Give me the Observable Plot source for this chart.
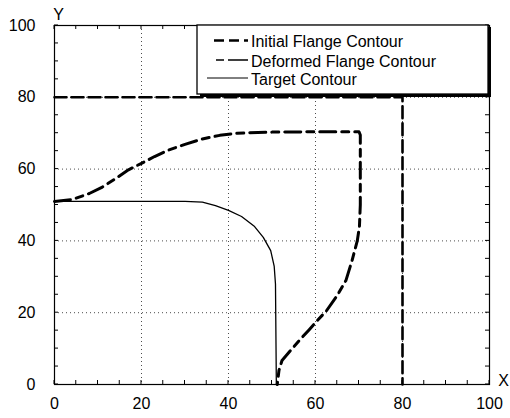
<!DOCTYPE html>
<html><head><meta charset="utf-8">
<script src="https://cdn.jsdelivr.net/npm/d3@7"></script>
<script src="https://cdn.jsdelivr.net/npm/@observablehq/plot@0.6"></script>
<style>
body{margin:0;background:#fff;}
#wrap{position:relative;width:510px;height:418px;font-family:"Liberation Sans",Arial,sans-serif;}
#wrap svg{display:block;}
#legend{position:absolute;left:0;top:0;}
</style></head><body><div id="wrap"></div>
<script>
// ---- data ----
const seriesNames = ["Initial Flange Contour", "Deformed Flange Contour", "Target Contour"];
const initialX = [0, 80, 80];
const initialY = [80, 80, 0];
const deformedX = [0, 4, 8, 11, 14, 17, 20, 23, 26, 30, 34, 38, 42, 50, 60, 70, 70.3, 70.3, 70.3, 70.1, 69.6, 68.4, 67, 65, 62.5, 60.4, 58.5, 56.6, 54.5, 52.3, 51.6, 51.2];
const deformedY = [51, 51.5, 53.2, 55, 57.3, 59.8, 61.6, 63.5, 65.2, 66.9, 68.4, 69.4, 70, 70.3, 70.4, 70.4, 69.5, 60, 50, 44, 40, 34.5, 29, 24.8, 20.5, 17.8, 15.2, 12.7, 9.8, 6.7, 3.9, 0];
const targetX = [0, 30, 34, 37, 40, 43, 46, 48, 49.7, 50.5, 50.8, 51];
const targetY = [51, 51, 50.8, 49.8, 48.5, 46.8, 44, 41, 37.3, 33, 28, 0];
const tickValues = [0, 20, 40, 60, 80, 100];
const gridValues = [20, 40, 60, 80];
const minorTicks = [0, 5, 10, 15, 20, 25, 30, 35, 40, 45, 50, 55, 60, 65, 70, 75, 80, 85, 90, 95, 100];
const axisNames = ["X", "Y"];

// ---- build tables ----
const toPts = (xs, ys) => xs.map((x, i) => ({x, y: ys[i]}));
const initial = toPts(initialX, initialY);
const deformed = toPts(deformedX, deformedY);
const target = toPts(targetX, targetY);

const styles = [
  {stroke: "#000", strokeWidth: 2.6, strokeDasharray: "12,5"},
  {stroke: "#000", strokeWidth: 3, strokeDasharray: "16,6,7,6"},
  {stroke: "#000", strokeWidth: 1.3}
];
const FONT = "Liberation Sans, Arial, sans-serif";

const chart = Plot.plot({
  width: 510,
  height: 418,
  marginLeft: 54,
  marginRight: 21,
  marginTop: 25,
  marginBottom: 34,
  style: {fontFamily: FONT, fontSize: "16px", color: "#000", background: "#fff"},
  x: {domain: [0, 100]},
  y: {domain: [0, 100]},
  marks: [
    Plot.gridX({ticks: gridValues, stroke: "#000", strokeOpacity: 0.7, strokeDasharray: "1,3"}),
    Plot.gridY({ticks: gridValues, stroke: "#000", strokeOpacity: 0.7, strokeDasharray: "1,3"}),
    Plot.axisX({ticks: tickValues, tickSize: 0, tickPadding: 13, label: null, fontSize: 16}),
    Plot.axisY({ticks: tickValues, tickSize: 0, tickPadding: 19, label: null, fontSize: 16}),
    Plot.line(target, {x: "x", y: "y", ...styles[2]}),
    Plot.line(initial, {x: "x", y: "y", ...styles[0]}),
    Plot.line(deformed, {x: "x", y: "y", ...styles[1]}),
    Plot.frame({stroke: "#000", strokeWidth: 1.2}),
    Plot.text([axisNames[0]], {frameAnchor: "bottom-right", dx: 14, dy: -4, text: d => d, textAnchor: "middle", lineAnchor: "middle", fontSize: 16, fill: "#000"}),
    Plot.text([axisNames[1]], {frameAnchor: "top-left", dx: 4, dy: -11, text: d => d, textAnchor: "middle", lineAnchor: "middle", fontSize: 16, fill: "#000"})
  ]
});
const wrap = document.getElementById("wrap");
wrap.appendChild(chart);

// ---- overlay: inward minor ticks (positioned by Plot's scales) + in-plot legend ----
const sx = chart.scale("x"), sy = chart.scale("y");
const X = v => sx.apply(v), Y = v => sy.apply(v);
const leg = d3.select(wrap).append("svg").attr("id", "legend")
  .attr("width", 510).attr("height", 418)
  .attr("font-family", FONT).attr("font-size", 16);
const tk = leg.append("g").attr("stroke", "#000").attr("stroke-width", 1);
const L = 4;
minorTicks.forEach(v => {
  tk.append("line").attr("x1", X(v)).attr("x2", X(v)).attr("y1", Y(0)).attr("y2", Y(0) - L);
  tk.append("line").attr("x1", X(v)).attr("x2", X(v)).attr("y1", Y(100)).attr("y2", Y(100) + L);
  tk.append("line").attr("y1", Y(v)).attr("y2", Y(v)).attr("x1", X(0)).attr("x2", X(0) + L);
  tk.append("line").attr("y1", Y(v)).attr("y2", Y(v)).attr("x1", X(100)).attr("x2", X(100) - L);
});
const box = {x: 197, y: Y(100), w: X(100) - 197 - 1, h: 69};
leg.append("rect").attr("x", box.x).attr("y", box.y).attr("width", box.w).attr("height", box.h)
  .attr("fill", "#fff").attr("stroke", "#000").attr("stroke-width", 1.3);
leg.append("path").attr("d", `M${box.x + 3},${box.y + box.h + 1.5}H${box.x + box.w + 1.5}V${box.y + 2}`)
  .attr("fill", "none").attr("stroke", "#000").attr("stroke-width", 3);
const rows = [41.5, 61, 79];
const sampleX = [[214, 248], [216, 248], [207, 248]];
const legStyles = [
  {w: 2.6, dash: "10,5"},
  {w: 1.5, dash: "8,4,20,4"},
  {w: 1, dash: null}
];
seriesNames.forEach((name, i) => {
  const l = leg.append("line").attr("x1", sampleX[i][0]).attr("x2", sampleX[i][1])
    .attr("y1", rows[i] - 1).attr("y2", rows[i] - 1)
    .attr("stroke", "#000").attr("stroke-width", legStyles[i].w);
  if (legStyles[i].dash) l.attr("stroke-dasharray", legStyles[i].dash);
  leg.append("text").attr("x", 251).attr("y", rows[i]).attr("dy", "0.35em").attr("fill", "#000").text(name);
});
</script>
</body></html>
